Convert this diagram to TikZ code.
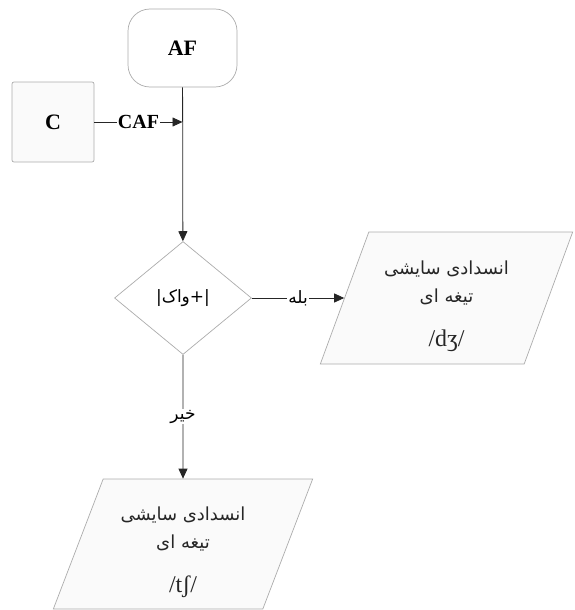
\documentclass[tikz,border=0pt]{standalone}
\usepackage{fontspec}
\setmainfont{Liberation Serif}
\newfontfamily\persianfont[Script=Arabic]{DejaVu Sans}
\TeXXeTstate=1
\usetikzlibrary{shapes.geometric,arrows.meta}

\begin{document}
\begin{tikzpicture}[x=1pt, y=1pt,
    box/.style={draw=gray!65, fill=gray!4, line width=0.7pt},
    termbox/.style={box, fill=white, rounded corners=22pt, minimum width=109pt, minimum height=78pt,
        font=\fontsize{22}{24}\selectfont\bfseries},
    srcbox/.style={box, rounded corners=2pt, minimum width=82pt, minimum height=80pt,
        font=\fontsize{22}{24}\selectfont\bfseries},
    testbox/.style={box, fill=white, diamond, inner sep=0pt, minimum width=137pt, minimum height=113pt,
        font=\fontsize{17}{19}\selectfont\persianfont},
    outbox/.style={box, trapezium, trapezium left angle=70, trapezium right angle=110,
        trapezium stretches=true, inner sep=0pt, minimum width=253pt, minimum height=132pt,
        align=center, text=black!85, font=\fontsize{18}{28}\selectfont\persianfont},
    conn/.style={draw=black!85, line width=0.8pt, -{Triangle[length=10pt, width=9pt]}},
    lbl/.style={fill=white, inner sep=1pt, font=\fontsize{17}{19}\selectfont\persianfont},
    ipa/.style={font=\fontsize{24}{26}\selectfont}
]
    \useasboundingbox (0,0) rectangle (574,-610);

    % Start and input
    \node[termbox] (af) at (182.5,-48) {AF};
    \node[srcbox] (c) at (53,-122) {C};
    \coordinate (join) at (c.east -| af.south);

    % Test
    \node[testbox] (cond) at (183,-298) {\beginR|+واک|\endR};

    % Outputs
    \node[outbox] (dzh) at (446.5,-298) {\rule{0pt}{30pt}\beginR انسدادی سایشی\endR\\
        \beginR تیغه ای\endR\\[16pt] {\fontsize{24}{26}\selectfont\rmfamily /dʒ/}};
    \node[outbox, minimum width=260pt, minimum height=130pt] (tsh) at (183,-544)
        {\rule{0pt}{30pt}\beginR انسدادی سایشی\endR\\
        \beginR تیغه ای\endR\\[16pt] {\fontsize{24}{26}\selectfont\rmfamily /tʃ/}};

    % Connections
    \draw[conn] (af) -- (cond);
    \draw[conn] (c.east) -- node[lbl, font=\fontsize{20}{22}\selectfont\rmfamily\bfseries] (caf) {CAF} (join);
    \draw[conn] (cond.east) -- node[lbl] (yes) {\beginR بله\endR} (dzh.west);
    \draw[conn] (cond.south) -- node[lbl] (no) {\beginR خیر\endR} (tsh.north);
\end{tikzpicture}
\end{document}
